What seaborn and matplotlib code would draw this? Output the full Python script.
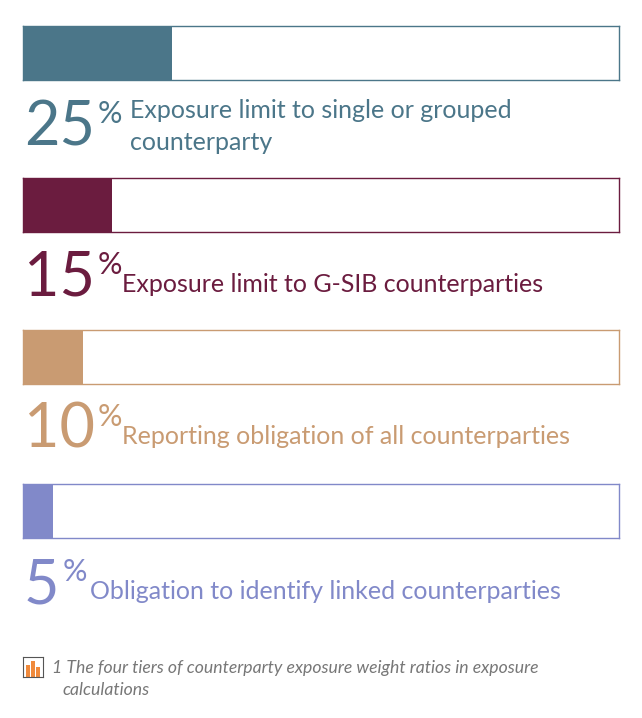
import matplotlib.pyplot as plt
import seaborn as sns
import pandas as pd

W, H = 642, 718

values = [25, 15, 10, 5]
labels = [['Exposure limit to single or grouped', 'counterparty'],
          ['Exposure limit to G-SIB counterparties'],
          ['Reporting obligation of all counterparties'],
          ['Obligation to identify linked counterparties']]
colors = ['#4b7689', '#6b1c3f', '#c99b72', '#8189c9']
caption = ['1 The four tiers of counterparty exposure weight ratios in exposure',
           'calculations']

# layout in pixels
box_top = [26, 178, 330, 484]
num_base = [145, 296, 448, 603]
lab_x = [130, 122, 122, 90]
lab_base = [118, 292, 444, 599]

fig = plt.figure(figsize=(W / 100, H / 100), dpi=100)
font = 'Lato'
renderer = fig.canvas.get_renderer()

for i, v in enumerate(values):
    ax = fig.add_axes([23 / W, 1 - (box_top[i] + 54) / H, 596 / W, 54 / H])
    df = pd.DataFrame({'v': [v], 'c': ['a']})
    sns.barplot(data=df, x='v', y='c', orient='h', color=colors[i], width=1.0,
                saturation=1, ax=ax)
    ax.set_xlim(0, 100)
    ax.set_ylim(0.5, -0.5)
    ax.set_xticks([])
    ax.set_yticks([])
    ax.set_xlabel('')
    ax.set_ylabel('')
    for s in ax.spines.values():
        s.set_color(colors[i])
        s.set_linewidth(1)

    t = fig.text(24 / W, 1 - num_base[i] / H, str(v), fontsize=44, color=colors[i],
                 family=font, va='baseline', ha='left')
    ext = t.get_window_extent(renderer)
    fig.text((ext.x1 + 3) / W, 1 - (num_base[i] - 22) / H, '%', fontsize=22,
             color=colors[i], family=font, va='baseline', ha='left')
    for j, line in enumerate(labels[i]):
        fig.text(lab_x[i] / W, 1 - (lab_base[i] + 32 * j) / H, line, fontsize=18,
                 color=colors[i], family=font, va='baseline', ha='left')

# caption icon
icon = fig.add_axes([23 / W, 1 - 677 / H, 20 / W, 20 / H])
sns.barplot(x=[0, 1, 2], y=[3, 4, 2.5], color='#f08a3c', saturation=1, width=0.8, ax=icon)
icon.set_ylim(0, 5)
icon.set_xlim(-0.9, 2.9)
icon.set_xticks([])
icon.set_yticks([])
for s in icon.spines.values():
    s.set_color('#555555')
fig.text(52 / W, 1 - 673 / H, caption[0], fontsize=12.7, color='#777777', family=font,
         style='italic', va='baseline', ha='left')
fig.text(62 / W, 1 - 695 / H, caption[1], fontsize=12.7, color='#777777', family=font,
         style='italic', va='baseline', ha='left')

fig.savefig('out.png', dpi=100)
